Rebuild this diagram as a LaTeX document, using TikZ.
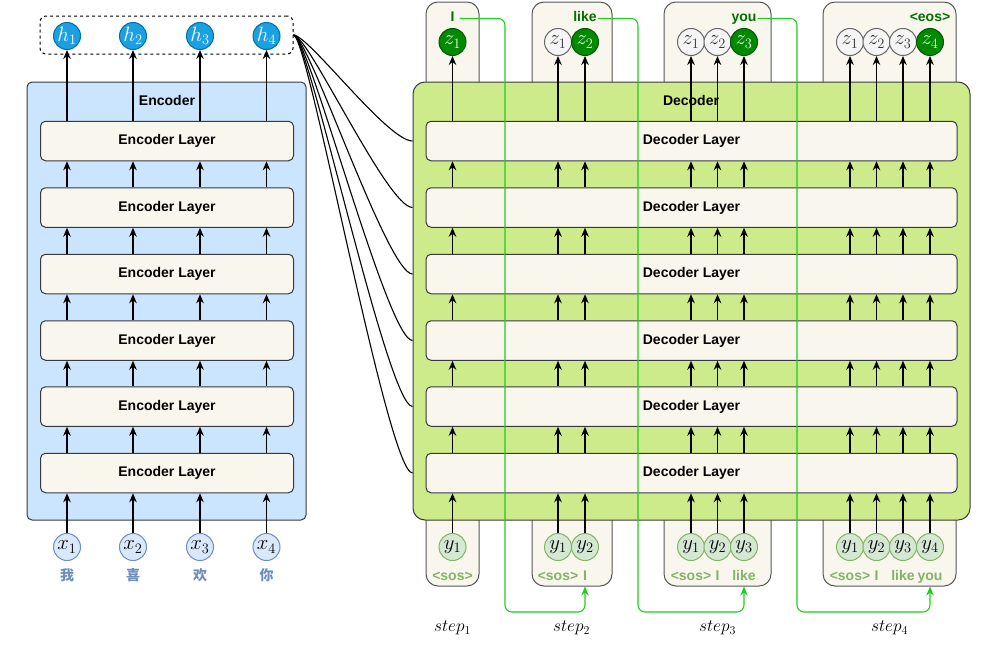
\documentclass[tikz,border=0pt]{standalone}
\usepackage{fontspec}
\setmainfont{Liberation Sans}
\newfontfamily\cjk{Noto Sans CJK SC}
\usetikzlibrary{arrows.meta}
\definecolor{edge}{HTML}{36393D}
\definecolor{encfill}{HTML}{CCE5FF}
\definecolor{decfill}{HTML}{CDEB8B}
\definecolor{layerfill}{HTML}{F9F7ED}
\definecolor{hfill}{HTML}{1BA1E2}
\definecolor{hdraw}{HTML}{006EAF}
\definecolor{xfill}{HTML}{DAE8FC}
\definecolor{xdraw}{HTML}{6C8EBF}
\definecolor{yfill}{HTML}{D5E8D4}
\definecolor{ydraw}{HTML}{82B366}
\definecolor{zgfill}{HTML}{008A00}
\definecolor{zgdraw}{HTML}{005700}
\definecolor{zwfill}{HTML}{F5F5F5}
\definecolor{zwdraw}{HTML}{666666}
\definecolor{outgreen}{HTML}{007000}
\definecolor{fb}{HTML}{22CC22}
\tikzset{
  lab/.style={font=\fontsize{14}{16}\selectfont\bfseries, inner sep=1pt},
  wlab/.style={lab, anchor=base},
  layer/.style={draw=edge, fill=layerfill, rounded corners=5pt, line width=1pt, minimum height=39.5pt, inner sep=0pt, font=\fontsize{14}{16}\selectfont\bfseries},
  stepbg/.style={draw=edge!85, fill=layerfill, rounded corners=12pt, line width=1pt, inner sep=0pt},
  circ/.style={circle, minimum size=27pt, inner sep=0pt, line width=1pt, font=\fontsize{20}{22}\selectfont},
  hc/.style={circ, fill=hfill, draw=hdraw, text=white},
  xc/.style={circ, fill=xfill, draw=xdraw},
  yc/.style={circ, fill=yfill, draw=ydraw},
  zg/.style={circ, fill=zgfill, draw=zgdraw, text=white},
  zw/.style={circ, fill=zwfill, draw=zwdraw, text=black!80},
  arr/.style={-{Stealth[length=9pt,width=7.5pt]}, line width=1.3pt, black},
  garr/.style={-{Stealth[length=9pt,width=7.5pt]}, line width=1.1pt, fb, rounded corners=7pt},
  conn/.style={line width=1.1pt, black},
}
\begin{document}
\begin{tikzpicture}[x=1pt,y=-1pt]
\useasboundingbox (0,0) rectangle (984,648);
% step background boxes
\node[stepbg, minimum width=53pt, minimum height=584pt] (s1) at (452.5,294) {};
\node[stepbg, minimum width=80pt, minimum height=584pt] (s2) at (572,294) {};
\node[stepbg, minimum width=107pt, minimum height=584pt] (s3) at (717.5,294) {};
\node[stepbg, minimum width=133pt, minimum height=584pt] (s4) at (889.5,294) {};
% blocks
\node[draw=edge, fill=encfill, rounded corners=5pt, line width=1pt, minimum width=279pt, minimum height=438pt] (enc) at (166.5,301) {};
\node[draw=edge, fill=decfill, rounded corners=12pt, line width=1pt, minimum width=557pt, minimum height=438pt] (dec) at (691.5,301) {};
\node[lab] (enclab) at (167,100) {Encoder};
\node[lab] (declab) at (691,100) {Decoder};
% layers
\foreach \i/\y in {1/141,2/207.5,3/274,4/340.5,5/406.5,6/473}{
  \node[layer, minimum width=253pt] (e\i) at (167,\y) {Encoder Layer};
  \node[layer, minimum width=531pt] (d\i) at (691.5,\y) {Decoder Layer};
}
% encoder inputs / outputs
\node[draw, dashed, rounded corners=6pt, line width=1pt, minimum width=253pt, minimum height=38pt] (hb) at (166.5,35) {};
\foreach \k/\x/\c in {1/67/我,2/133/喜,3/200/欢,4/266.5/你}{
  \node[hc] (h\k) at (\x,36) {$h_{\k}$};
  \node[xc] (x\k) at (\x,547) {$x_{\k}$};
  \node[font=\cjk\fontsize{14}{16}\selectfont\bfseries, text=xdraw] (c\k) at (\x,575) {\c};
  \draw[arr] (x\k.north) -- (e6.south -| x\k);
  \foreach \i/\j in {1/2,2/3,3/4,4/5,5/6}{
    \draw[arr] (e\j.north -| x\k) -- (e\i.south -| x\k);
  }
  \draw[arr] (e1.north -| h\k) -- (h\k.south);
}
% decoder columns
\foreach \s/\k/\x in {1/1/452.5, 2/1/558, 2/2/585, 3/1/691, 3/2/717.5, 3/3/744, 4/1/850, 4/2/876.5, 4/3/903, 4/4/930}{
  \ifnum\k=\s \def\zs{zg}\else\def\zs{zw}\fi
  \node[\zs] (z\s\k) at (\x,42) {$z_{\k}$};
  \node[yc] (y\s\k) at (\x,547) {$y_{\k}$};
  \node[wlab, text=ydraw] (w\s\k) at (\x,580) {\ifcase\k\or <sos>\or I\or like\or you\fi};
  \draw[arr] (y\s\k.north) -- (d6.south -| y\s\k);
  \foreach \i/\j in {1/2,2/3,3/4,4/5,5/6}{
    \draw[arr] (d\j.north -| y\s\k) -- (d\i.south -| y\s\k);
  }
  \draw[arr] (d1.north -| z\s\k) -- (z\s\k.south);
}
% outputs
\node[wlab, text=outgreen] (o1) at (452.5,21) {I};
\node[wlab, text=outgreen] (o2) at (585,21) {like};
\node[wlab, text=outgreen] (o3) at (744,21) {you};
\node[wlab, text=outgreen] (o4) at (930,21) {<eos>};
% step labels
\foreach \s/\x in {1/452.5,2/571.5,3/717.5,4/889.5}{
  \node[font=\fontsize{17.28}{20}\selectfont] (st\s) at (\x,628) {$step_{\s}$};
}
% encoder -> decoder connectors
\foreach \i in {1,...,6}{
  \draw[conn] (hb.east) .. controls +(15,0) and +(-25,0) .. (d\i -| dec.west);
}
% feedback arrows
\coordinate (g1) at (505,612);
\coordinate (g2) at (638,612);
\coordinate (g3) at (797,612);
\draw[garr] ([xshift=4pt]o1.east |- o1.mid) -| (g1) -| (s2.south -| y22);
\draw[garr] (o2.east |- o2.mid) -| (g2) -| (s3.south -| y33);
\draw[garr] (o3.east |- o3.mid) -| (g3) -| (s4.south -| y44);
\end{tikzpicture}
\end{document}
